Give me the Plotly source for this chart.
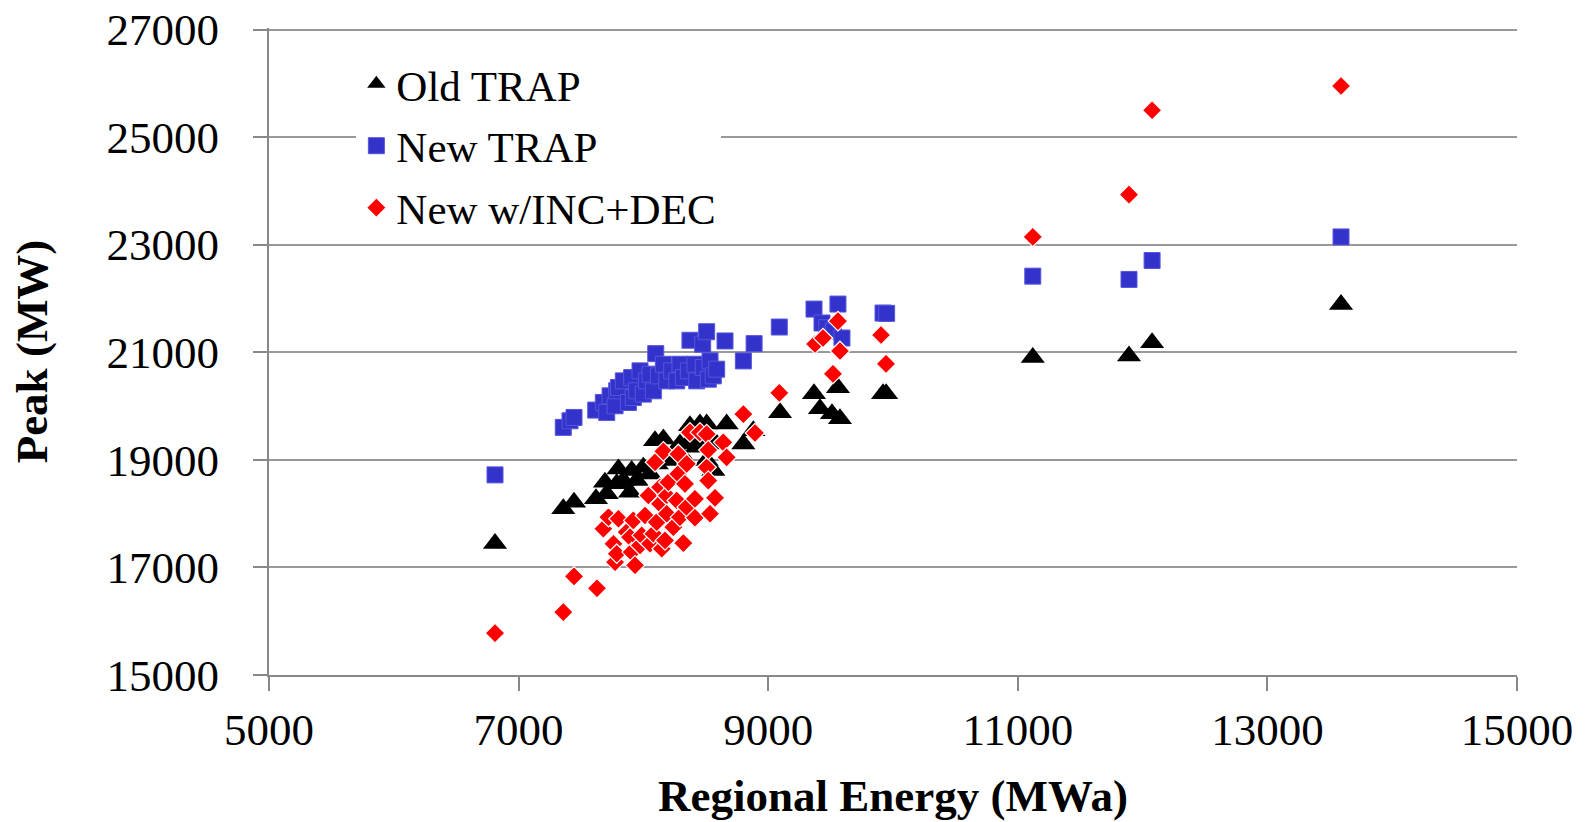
import plotly.graph_objects as go

# ---- data (Regional Energy MWa, Peak MW) ----
old_x = [6811, 7358, 7444, 7620, 7692, 7706, 7786, 7800, 7839, 7893, 7906, 7946, 7999,
         8053, 8093, 8107, 8160, 8187, 8253, 8293, 8320, 8373, 8373, 8427, 8453, 8480,
         8507, 8507, 8560, 8587, 8667, 8801, 8881, 9095, 9367, 9415, 9511, 9559, 9575,
         9920, 9945, 11120, 11891, 12076, 13590]
old_y = [17447, 18090, 18213, 18276, 18584, 18368, 18554, 18832, 18615, 18399, 18801, 18615, 18862,
         18739, 19357, 18925, 19388, 18986, 19171, 19296, 19048, 19635, 19357, 19234, 19666, 19388,
         19666, 18986, 18801, 19296, 19666, 19296, 19542, 19876, 20228, 19950, 19857, 20340, 19765,
         20228, 20228, 20902, 20933, 21180, 21891]

new_x = [6811, 7358, 7412, 7444, 7618, 7679, 7706, 7733, 7773, 7786, 7800, 7839, 7880, 7906,
         7919, 7946, 7973, 7999, 8026, 8053, 8080, 8099, 8120, 8160, 8187, 8227, 8267, 8293,
         8320, 8360, 8373, 8413, 8427, 8475, 8480, 8507, 8520, 8534, 8560, 8587, 8654, 8801,
         8887, 9089, 9367, 9431, 9469, 9522, 9559, 9591, 9920, 9949, 11120, 11891, 12076, 13590]
new_y = [18721, 19604, 19727, 19789, 19926, 20067, 19882, 20191, 20006, 20284, 20345, 20469, 20067, 20530,
         20160, 20284, 20655, 20223, 20469, 20593, 20284, 20975, 20562, 20778, 20469, 20655, 20469, 20778,
         20530, 20655, 21224, 20778, 20469, 21150, 20716, 21383, 20500, 20840, 20562, 20686, 21211, 20840,
         21161, 21470, 21804, 21545, 21457, 21396, 21897, 21266, 21730, 21724, 22416, 22355, 22707, 23145]

inc_x = [6811, 7358, 7444, 7628, 7679, 7720, 7760, 7773, 7786, 7800, 7866, 7893, 7906, 7919,
         7933, 7973, 7986, 8013, 8040, 8053, 8080, 8093, 8107, 8133, 8133, 8147, 8160, 8173,
         8187, 8187, 8200, 8240, 8267, 8280, 8280, 8293, 8320, 8333, 8347, 8347, 8373, 8413,
         8413, 8453, 8507, 8507, 8520, 8520, 8534, 8574, 8640, 8667, 8801, 8894, 9089, 9375,
         9439, 9519, 9559, 9575, 9904, 9944, 11120, 11891, 12076, 13590]
inc_y = [15779, 16168, 16835, 16613, 17719, 17935, 17441, 17100, 17255, 17905, 17657, 17564, 17286, 17874,
         17040, 17410, 17596, 17966, 18337, 17441, 17627, 18955, 17842, 18491, 18183, 17348, 19159, 17503,
         18337, 17998, 18584, 17749, 18244, 19110, 18739, 17935, 17453, 18553, 18925, 18120, 19511, 18276,
         17924, 19511, 19480, 18863, 19184, 18615, 17998, 18294, 19326, 19047, 19852, 19500, 20247, 21155,
         21266, 20600, 21581, 21025, 21322, 20785, 23145, 23931, 25500, 25952]

series_names = ["Old TRAP", "New TRAP", "New w/INC+DEC"]

x_ticks = [5000, 7000, 9000, 11000, 13000, 15000]
y_ticks = [15000, 17000, 19000, 21000, 23000, 25000, 27000]

FONT = "Liberation Serif"

fig = go.Figure()
fig.add_trace(go.Scatter(
    x=old_x, y=old_y, mode="markers", name=series_names[0], legendgroup="a",
    marker=dict(symbol="triangle-up", size=21, color="#000000",
                line=dict(color="#000000", width=0))))
fig.add_trace(go.Scatter(
    x=new_x, y=new_y, mode="markers", name=series_names[1], legendgroup="b",
    marker=dict(symbol="square", size=16, color="#3333CC",
                line=dict(color="#5555DD", width=1))))
fig.add_trace(go.Scatter(
    x=inc_x, y=inc_y, mode="markers", name=series_names[2], legendgroup="c",
    marker=dict(symbol="diamond", size=15, color="#FF0000",
                line=dict(color="#FFFFFF", width=1.2))))

fig.update_layout(
    width=1591, height=822,
    paper_bgcolor="white", plot_bgcolor="white",
    margin=dict(l=269, r=74, t=28, b=147),
    font=dict(family=FONT, size=45, color="black"),
    showlegend=True,
    legend=dict(x=0.070, y=0.967, xanchor="left", yanchor="top",
                bgcolor="white", borderwidth=0,
                font=dict(family=FONT, size=43, color="black"),
                tracegroupgap=3, traceorder="grouped"),
    xaxis=dict(range=[5000, 15000], tickvals=x_ticks, tickformat="d",
               automargin=False,
               showgrid=False, zeroline=False,
               showline=True, linecolor="#888888", linewidth=2,
               ticks="outside", ticklen=14, tickcolor="#888888", tickwidth=2,
               ticklabelstandoff=0,
               tickfont=dict(family=FONT, size=45),
               title=dict(text="<b>Regional Energy (MWa)</b>",
                          font=dict(family=FONT, size=45), standoff=25)),
    yaxis=dict(range=[15000, 27030], tickvals=y_ticks, tickformat="d",
               automargin=False,
               showgrid=True, gridcolor="#999999", gridwidth=2,
               zeroline=False,
               showline=True, linecolor="#888888", linewidth=2,
               ticks="outside", ticklen=14, tickcolor="#888888", tickwidth=2,
               ticklabelstandoff=25,
               tickfont=dict(family=FONT, size=45),
               title=dict(text="<b>Peak (MW)</b>",
                          font=dict(family=FONT, size=45), standoff=45)),
)

fig.write_html("out.html",
               config={"displayModeBar": False},
               post_script="document.body.style.margin='0';document.body.style.overflow='hidden';")
